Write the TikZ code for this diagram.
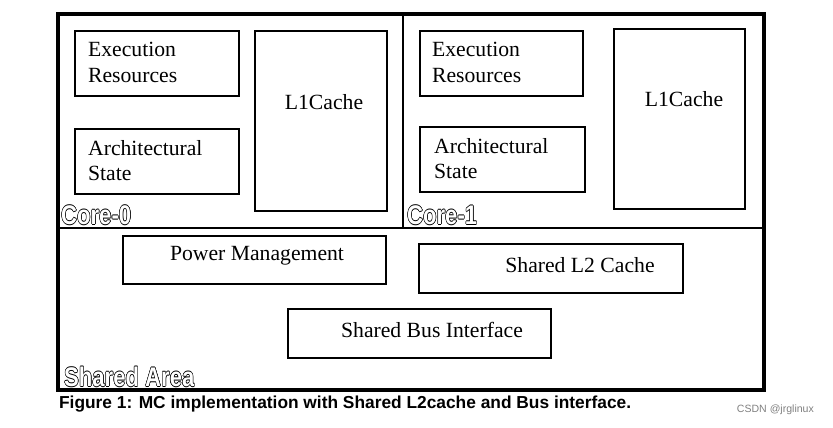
\documentclass[tikz,border=0pt]{standalone}
\usepackage{fontspec}
\setmainfont{Liberation Serif}
\newfontfamily\capfont{Liberation Sans}
\newcommand{\hollow}[1]{%
  \foreach \ox/\oy in {-1/0,1/0,0/-1,0/1,-0.7/-0.7,0.7/0.7,-0.7/0.7,0.7/-0.7}{%
    \node[tag, text=black] at ([shift={(\ox*0.45pt,\oy*0.45pt)}]tagpos) {#1};}
  \node[tag, text=white] at (tagpos) {#1};}
\begin{document}
\begin{tikzpicture}[x=0.3mm,y=-0.3mm,
  txt/.style={align=left, font=\fontsize{18.5}{22}\selectfont},
  tag/.style={anchor=south west, inner sep=0pt, font=\capfont\bfseries\fontsize{23}{24}\selectfont, xscale=0.82}]
  % page
  \useasboundingbox (0,0) rectangle (833,427);
  % frame and dividers
  \draw[line width=3pt] (58,14) rectangle (764,390);
  \draw[line width=1.4pt] (58,228) -- (764,228);
  \draw[line width=1.4pt] (403,14) -- (403,228);

  % Core-0
  \draw[line width=0.9pt] (75,31) rectangle (239,96);
  \node[txt, anchor=north west] (exec0) at (84,38) {Execution\\Resources};
  \draw[line width=0.9pt] (75,129) rectangle (239,194);
  \node[txt, anchor=north west] (arch0) at (84,136) {Architectural\\State};
  \draw[line width=0.9pt] (255,31) rectangle (387,211);
  \node[txt] (l10) at (324,102) {L1Cache};
  \coordinate (tagpos) at (61,225); \hollow{Core-0}

  % Core-1
  \draw[line width=0.9pt] (420,31) rectangle (583,96);
  \node[txt, anchor=north west] (exec1) at (428,38) {Execution\\Resources};
  \draw[line width=0.9pt] (420,127) rectangle (585,192);
  \node[txt, anchor=north west] (arch1) at (430,134) {Architectural\\State};
  \draw[line width=0.9pt] (614,29) rectangle (745,209);
  \node[txt] (l11) at (684,99) {L1Cache};
  \coordinate (tagpos) at (407,225); \hollow{Core-1}

  % Shared area
  \draw[line width=0.9pt] (123,236) rectangle (386,284);
  \node[txt] (pm) at (257,256) {Power Management};
  \draw[line width=0.9pt] (419,244) rectangle (683,293);
  \node[txt] (l2) at (580,265) {Shared L2 Cache};
  \draw[line width=0.9pt] (288,309) rectangle (551,358);
  \node[txt] (bus) at (432,330) {Shared Bus Interface};
  \coordinate (tagpos) at (64,387); \hollow{Shared Area}

  % caption
  \node[anchor=west, font=\capfont\bfseries\fontsize{14.8}{16}\selectfont] (cap) at (55,404) {Figure 1: MC implementation with Shared L2cache and Bus interface.};
  \node[anchor=east, text=gray, font=\capfont\fontsize{9}{10}\selectfont] (wm) at (818,410) {CSDN @jrglinux};
\end{tikzpicture}
\end{document}
